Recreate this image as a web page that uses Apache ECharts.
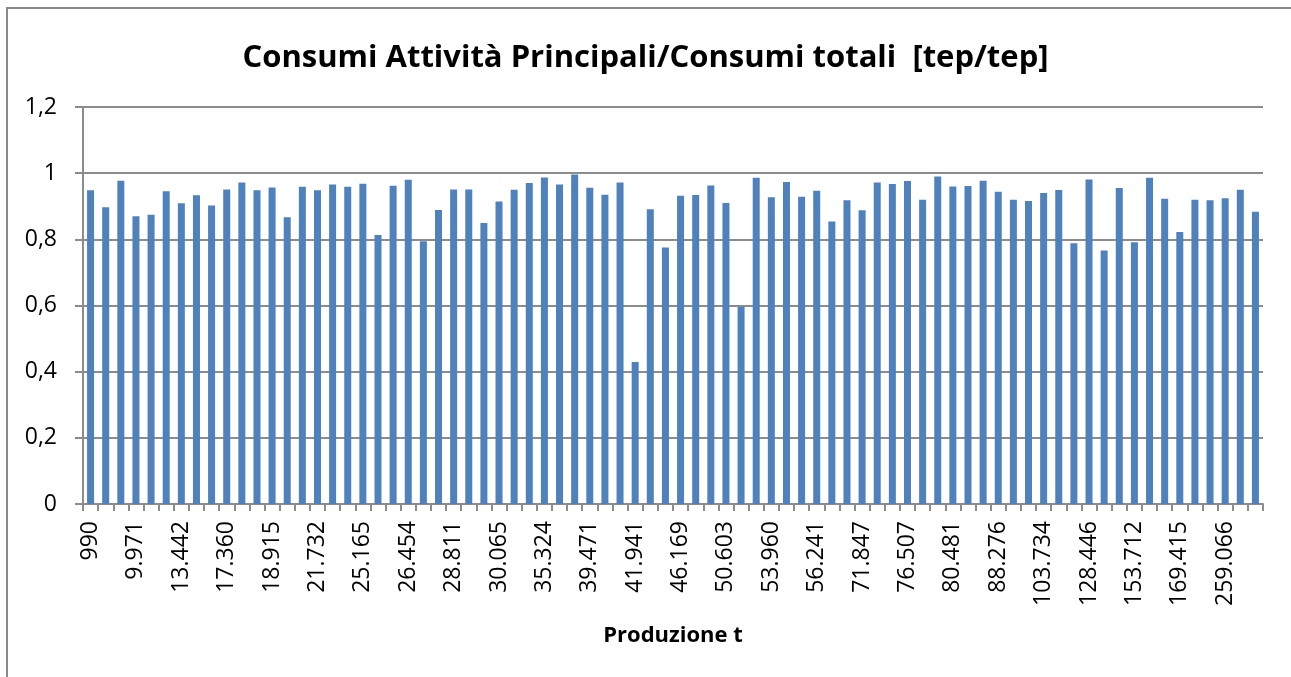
<!DOCTYPE html>
<html>
<head>
<meta charset="utf-8">
<script src="https://cdn.jsdelivr.net/npm/echarts@6/dist/echarts.min.js"></script>
<style>
html,body{margin:0;padding:0;background:#fff;overflow:hidden;}
#chart{width:1291px;height:677px;}
</style>
</head>
<body>
<div id="chart"></div>
<script>
// Title and axis texts
const chartTitle = 'Consumi Attività Principali/Consumi totali  [tep/tep]';
const xAxisName = 'Produzione t';

// Visible category labels (one every three categories)
const shownLabels = ['990','9.971','13.442','17.360','18.915','21.732','25.165','26.454','28.811','30.065',
  '35.324','39.471','41.941','46.169','50.603','53.960','56.241','71.847','76.507','80.481',
  '88.276','103.734','128.446','153.712','169.415','259.066'];

// Ratio values (78 categories)
const values = [0.948, 0.897, 0.977, 0.870, 0.874, 0.945, 0.909, 0.933, 0.902, 0.951, 0.972, 0.948, 0.957, 0.867, 0.959, 0.948,
  0.966, 0.959, 0.968, 0.813, 0.962, 0.980, 0.794, 0.889, 0.951, 0.951, 0.849, 0.914, 0.950, 0.970, 0.987, 0.966, 0.996, 0.956, 0.935, 0.972, 0.429,
  0.891, 0.775, 0.932, 0.934, 0.963, 0.910, 0.596, 0.986, 0.927, 0.973, 0.929, 0.947, 0.854, 0.918, 0.888, 0.972, 0.967, 0.976, 0.920, 0.990, 0.960,
  0.961, 0.977, 0.944, 0.920, 0.916, 0.940, 0.949, 0.788, 0.981, 0.766, 0.955, 0.791, 0.986, 0.923, 0.822, 0.920, 0.918, 0.924, 0.950, 0.883];

// Category list: hidden labels are left blank (only every third label is readable)
const categories = values.map((v, i) => (i % 3 === 0 ? shownLabels[i / 3] : ''));

const FONT = 'Open Sans';
const GRAY = '#8c8c8c';

const chart = echarts.init(document.getElementById('chart'), null, {renderer: 'canvas'});
chart.setOption({
  animation: false,
  backgroundColor: '#ffffff',
  title: {
    text: chartTitle,
    left: 'center',
    top: 38,
    textStyle: {fontFamily: FONT, fontSize: 31, fontWeight: 'bold', color: '#000'}
  },
  graphic: [{
    type: 'polyline',
    shape: {points: [[7, 700], [7, 8], [1320, 8]]},
    style: {fill: null, stroke: '#8a8a8a', lineWidth: 2},
    silent: true
  }],
  grid: {left: 83, right: 28, top: 107, bottom: 173, containLabel: false},
  xAxis: {
    type: 'category',
    data: categories,
    boundaryGap: true,
    name: xAxisName,
    nameLocation: 'middle',
    nameGap: 121,
    nameTextStyle: {fontFamily: FONT, fontSize: 22, fontWeight: 'bold', color: '#000'},
    axisLine: {lineStyle: {color: GRAY, width: 2}},
    axisTick: {show: true, interval: 0, length: 7, alignWithLabel: false, lineStyle: {color: GRAY, width: 2}},
    axisLabel: {
      interval: 2,
      rotate: 90,
      margin: 17,
      hideOverlap: false,
      fontFamily: FONT,
      fontSize: 23,
      color: '#000'
    },
    splitLine: {show: false}
  },
  yAxis: {
    type: 'value',
    min: 0,
    max: 1.2,
    interval: 0.2,
    axisLine: {show: true, lineStyle: {color: GRAY, width: 2}},
    axisTick: {show: true, length: 8, lineStyle: {color: GRAY, width: 2}},
    axisLabel: {
      margin: 26,
      fontFamily: FONT,
      fontSize: 23,
      color: '#000',
      formatter: v => String(Math.round(v * 10) / 10).replace('.', ',')
    },
    splitLine: {show: true, lineStyle: {color: GRAY, width: 2}}
  },
  series: [{
    type: 'bar',
    data: values,
    barWidth: 7,
    itemStyle: {color: '#4f81bd'}
  }]
});
</script>
</body>
</html>
